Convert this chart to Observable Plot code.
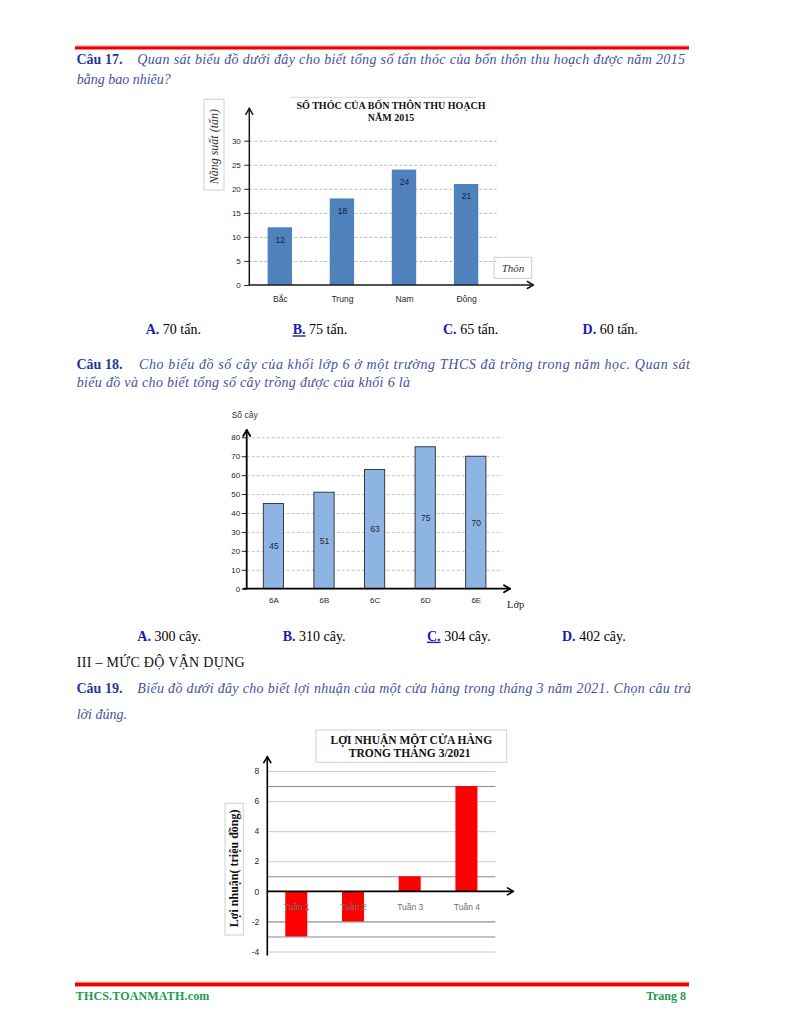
<!DOCTYPE html>
<html lang="vi">
<head>
<meta charset="utf-8">
<script src="https://cdn.jsdelivr.net/npm/d3@7"></script>
<script src="https://cdn.jsdelivr.net/npm/@observablehq/plot@0.6"></script>
<style>
html,body{margin:0;padding:0;background:#fff;}
#page{position:relative;width:792px;height:1024px;overflow:hidden;background:#fff;}
</style>
</head>
<body>
<div id="page"></div>
<script>
// ---------- data ----------
const thon = ["Bắc", "Trung", "Nam", "Đông"];
const thocTan = [12, 18, 24, 21];
const thocTicks = [0, 5, 10, 15, 20, 25, 30];

const lop = ["6A", "6B", "6C", "6D", "6E"];
const soCay = [45, 51, 63, 75, 70];
const cayTicks = [0, 10, 20, 30, 40, 50, 60, 70, 80];

const tuan = ["Tuần 1", "Tuần 2", "Tuần 3", "Tuần 4"];
const loiNhuan = [-3, -2, 1, 7];
const loiTicks = [-4, -2, 0, 2, 4, 6, 8];

const SANS = "'Liberation Sans', Arial, sans-serif";
const SERIF = "'Liberation Serif', 'Times New Roman', serif";
const page = document.getElementById("page");

function place(svg, left, top) {
  svg.style.position = "absolute";
  svg.style.left = left + "px";
  svg.style.top = top + "px";
  svg.style.maxWidth = "none";
  svg.style.background = "transparent";
  page.appendChild(svg);
  return svg;
}

function drawAxes(svg, o) {
  const xs = svg.scale("x"), ys = svg.scale("y");
  const x0 = xs.range[0], x1 = xs.range[1];
  const yz = ys.apply(0);
  const yTop = ys.apply(ys.domain[1]) - o.topExt;
  const yBot = ys.apply(ys.domain[0]) + (o.bottomExt || 0);
  const xTip = x1 + o.rightExt;
  const g = d3.select(svg).append("g").attr("fill", "none").attr("stroke", o.color)
    .attr("stroke-width", o.width).attr("stroke-linecap", "round").attr("stroke-linejoin", "round");
  g.append("line").attr("x1", x0).attr("x2", x0).attr("y1", yBot).attr("y2", yTop);
  g.append("line").attr("x1", x0 - (o.leftExt || 0)).attr("x2", xTip).attr("y1", yz).attr("y2", yz);
  const a = o.head, w = o.headW;
  g.append("path").attr("d", `M${x0 - w},${yTop + a}L${x0},${yTop}L${x0 + w},${yTop + a}`);
  g.append("path").attr("d", `M${xTip - a},${yz - w}L${xTip},${yz}L${xTip - a},${yz + w}`);
}

const plain = d => String(d);

// ---------- chart 1 ----------
const d1 = thon.map((t, i) => ({thon: t, tan: thocTan[i]}));
const c1 = Plot.plot({
  width: 360, height: 220,
  marginLeft: 49.3, marginRight: 63.4, marginTop: 48.7, marginBottom: 27,
  style: {fontFamily: SANS, fontSize: "8px", color: "#262626", background: "transparent", overflow: "visible"},
  x: {domain: thon, paddingInner: 0.607, paddingOuter: 0.295, round: false, label: null},
  y: {domain: [0, 30], label: null},
  marks: [
    Plot.gridY(thocTicks.slice(1), {stroke: "#a8a8a8", strokeOpacity: 1, strokeWidth: 0.8, strokeDasharray: "3,2"}),
    Plot.barY(d1, {x: "thon", y: "tan", fill: "#4F81BD"}),
    Plot.text(d1, {x: "thon", y: "tan", text: d => String(d.tan), dy: 12, fill: "#17202e", fontSize: 8.5}),
    Plot.axisY(thocTicks, {tickSize: 5, tickPadding: 4, fontSize: 8, label: null, tickFormat: plain}),
    Plot.axisX({tickSize: 0, tickPadding: 10, fontSize: 8.5, label: null})
  ]
});
place(c1, 200, 92);
drawAxes(c1, {topExt: 32.4, rightExt: 36.7, color: "#1a1a1a", width: 1.5, head: 6, headW: 3.5});

// ---------- chart 2 ----------
const d2 = lop.map((l, i) => ({lop: l, cay: soCay[i]}));
const c2 = Plot.plot({
  width: 360, height: 210,
  marginLeft: 46.7, marginRight: 57.5, marginTop: 32.3, marginBottom: 26.3,
  style: {fontFamily: SANS, fontSize: "8px", color: "#262626", background: "transparent", overflow: "visible"},
  x: {domain: lop, paddingInner: 0.6, paddingOuter: 0.328, round: false, label: null},
  y: {domain: [0, 80], label: null},
  marks: [
    Plot.gridY(cayTicks.slice(1), {stroke: "#b4b4b4", strokeOpacity: 1, strokeWidth: 0.8, strokeDasharray: "3,2"}),
    Plot.barY(d2, {x: "lop", y: "cay", fill: "#8EB4E3", stroke: "#2a2a2a", strokeWidth: 0.9}),
    Plot.text(d2, {x: "lop", y: d => d.cay / 2, text: d => String(d.cay), fill: "#1c2738", fontSize: 8.5}),
    Plot.axisY(cayTicks, {tickSize: 5, tickPadding: 2, fontSize: 8, label: null, tickFormat: plain}),
    Plot.axisX({tickSize: 0, tickPadding: 8, fontSize: 8, label: null})
  ]
});
place(c2, 200, 405);
drawAxes(c2, {topExt: 7.3, rightExt: 7.5, leftExt: 3, color: "#000", width: 1.8, head: 6, headW: 3.5});

// ---------- chart 3 ----------
const d3data = tuan.map((t, i) => ({tuan: t, ln: loiNhuan[i]}));
const c3 = Plot.plot({
  width: 320, height: 225,
  marginLeft: 57.3, marginRight: 34.6, marginTop: 26, marginBottom: 18.5,
  style: {fontFamily: SANS, fontSize: "8px", color: "#262626", background: "transparent", overflow: "visible"},
  x: {domain: tuan, paddingInner: 0.612, paddingOuter: 0.317, round: false, axis: null, label: null},
  y: {domain: [-4, 8], label: null},
  marks: [
    Plot.gridY(loiTicks.filter(v => v !== 0), {stroke: "#cccccc", strokeOpacity: 1, strokeWidth: 1}),
    Plot.ruleY(loiNhuan, {stroke: "#8a8a8a", strokeWidth: 1}),
    Plot.barY(d3data, {x: "tuan", y: "ln", fill: "#FF0000"}),
    Plot.text(d3data, {x: "tuan", y: () => 0, dy: 15.4, text: "tuan", fill: "#707070", fontSize: 8.5}),
    Plot.axisY(loiTicks, {tickSize: 0, tickPadding: 8.6, fontSize: 8.5, label: null, tickFormat: plain})
  ]
});
place(c3, 210, 745);
drawAxes(c3, {topExt: 14.3, rightExt: 18, bottomExt: 3.5, color: "#000", width: 1.6, head: 6, headW: 3.5});

// ---------- page overlay (document text) ----------
const ov = d3.select(page).append("svg").attr("width", 792).attr("height", 1024)
  .style("position", "absolute").style("left", "0px").style("top", "0px").style("z-index", 5)
  .style("pointer-events", "none");

function T(x, y, s, a = {}) {
  const t = ov.append("text").attr("x", x).attr("y", y).text(s)
    .attr("font-family", a.ff || SERIF).attr("font-size", a.fs || 14).attr("fill", a.fill || "#000");
  if (a.fw) t.attr("font-weight", a.fw);
  if (a.it) t.attr("font-style", "italic");
  if (a.len) t.attr("textLength", a.len).attr("lengthAdjust", "spacing");
  if (a.anchor) t.attr("text-anchor", a.anchor);
  if (a.rot) t.attr("transform", `rotate(${a.rot},${x},${y})`);
  if (a.db) t.attr("dominant-baseline", a.db);
  return t;
}
function R(x, y, w, h, a = {}) {
  return ov.append("rect").attr("x", x).attr("y", y).attr("width", w).attr("height", h)
    .attr("fill", a.fill || "none").attr("stroke", a.stroke || "none").attr("stroke-width", a.sw || 1);
}
function ans(x, y, lab, val, ul) {
  const t = ov.append("text").attr("x", x).attr("y", y).attr("font-family", SERIF).attr("font-size", 14);
  const l = t.append("tspan").attr("font-weight", "bold").attr("fill", "#1a1ab4").text(lab);
  if (ul) l.attr("text-decoration", "underline");
  t.append("tspan").attr("fill", "#000").text(" " + val);
}

const QL = "#1f3a98", QT = "#44529f";

// header red line
R(75, 45.3, 614, 1.4, {fill: "#f6a0a0"});
R(75, 46.5, 614, 3, {fill: "#ee0000"});

// Câu 17
T(76.5, 64, "Câu 17.", {fw: "bold", fill: QL});
T(137.3, 64, "Quan sát biểu đồ dưới đây cho biết tổng số tấn thóc của bốn thôn thu hoạch được năm 2015", {it: true, fill: QT, len: 547.7});
T(76.7, 83.5, "bằng bao nhiêu?", {it: true, fill: QT});

// chart 1 decorations
ov.append("line").attr("x1", 290).attr("x2", 476).attr("y1", 97.3).attr("y2", 97.3).attr("stroke", "#d8d8d8");
T(391, 109, "SỐ THÓC CỦA BỐN THÔN THU HOẠCH", {fw: "bold", fs: 10, anchor: "middle", fill: "#111"});
T(391, 121, "NĂM 2015", {fw: "bold", fs: 10, anchor: "middle", fill: "#111"});
R(204, 99.3, 20, 90.7, {stroke: "#cfcfcf"});
T(214, 146.7, "Năng suất (tấn)", {it: true, fs: 12, anchor: "middle", db: "central", rot: -90, fill: "#333"});
R(494, 257.3, 37.7, 21, {stroke: "#cfcfcf"});
T(513, 267.8, "Thôn", {it: true, fs: 11, anchor: "middle", db: "central", fill: "#333"});

// answers 17
ans(145.7, 334.3, "A.", "70 tấn.");
ans(292.7, 334.3, "B.", "75 tấn.", true);
ans(443, 334.3, "C.", "65 tấn.");
ans(582.6, 334.3, "D.", "60 tấn.");

// Câu 18
T(76.5, 368.5, "Câu 18.", {fw: "bold", fill: QL});
T(139, 368.5, "Cho biểu đồ số cây của khối lớp 6 ở một trường THCS đã trồng trong năm học. Quan sát", {it: true, fill: QT, len: 551});
T(76.7, 387.3, "biểu đồ và cho biết tổng số cây trồng được của khối 6 là", {it: true, fill: QT, len: 333.3});

// chart 2 decorations
T(231.7, 418, "Số cây", {ff: SANS, fs: 8.5, fill: "#333"});
T(507, 608, "Lớp", {fs: 10.5, fill: "#222"});

// answers 18
ans(137.3, 640.7, "A.", "300 cây.");
ans(282.7, 640.7, "B.", "310 cây.");
ans(427, 640.7, "C.", "304 cây.", true);
ans(562, 640.7, "D.", "402 cây.");

T(76.7, 666.7, "III – MỨC ĐỘ VẬN DỤNG", {fill: "#111", len: 168});

// Câu 19
T(76.5, 692.7, "Câu 19.", {fw: "bold", fill: QL});
T(137.3, 692.7, "Biểu đồ dưới đây cho biết lợi nhuận của một cửa hàng trong tháng 3 năm 2021. Chọn câu trả", {it: true, fill: QT, len: 553.7});
T(76.7, 719.3, "lời đúng.", {it: true, fill: QT});

// chart 3 decorations
R(316, 730, 190.7, 32.3, {stroke: "#d0d0d0", fill: "#fff"});
T(411.3, 743.8, "LỢI NHUẬN MỘT CỬA HÀNG", {fw: "bold", fs: 11.5, anchor: "middle", fill: "#111"});
T(409.7, 757.2, "TRONG THÁNG 3/2021", {fw: "bold", fs: 11.5, anchor: "middle", fill: "#111"});
R(225, 803.3, 18.3, 131.7, {stroke: "#cfcfcf"});
T(234, 868.3, "Lợi nhuận( triệu đồng)", {fw: "bold", fs: 12, anchor: "middle", db: "central", rot: -90, fill: "#111"});

// footer
R(75, 981.6, 614, 1.4, {fill: "#f6a0a0"});
R(75, 982.8, 614, 3.6, {fill: "#ee0000"});
T(75.7, 1000, "THCS.TOANMATH.com", {fw: "bold", fs: 12, fill: "#1d9a50", len: 133.6});
T(686, 1000, "Trang 8", {fw: "bold", fs: 12, fill: "#1d9a50", anchor: "end"});
</script>
</body>
</html>
